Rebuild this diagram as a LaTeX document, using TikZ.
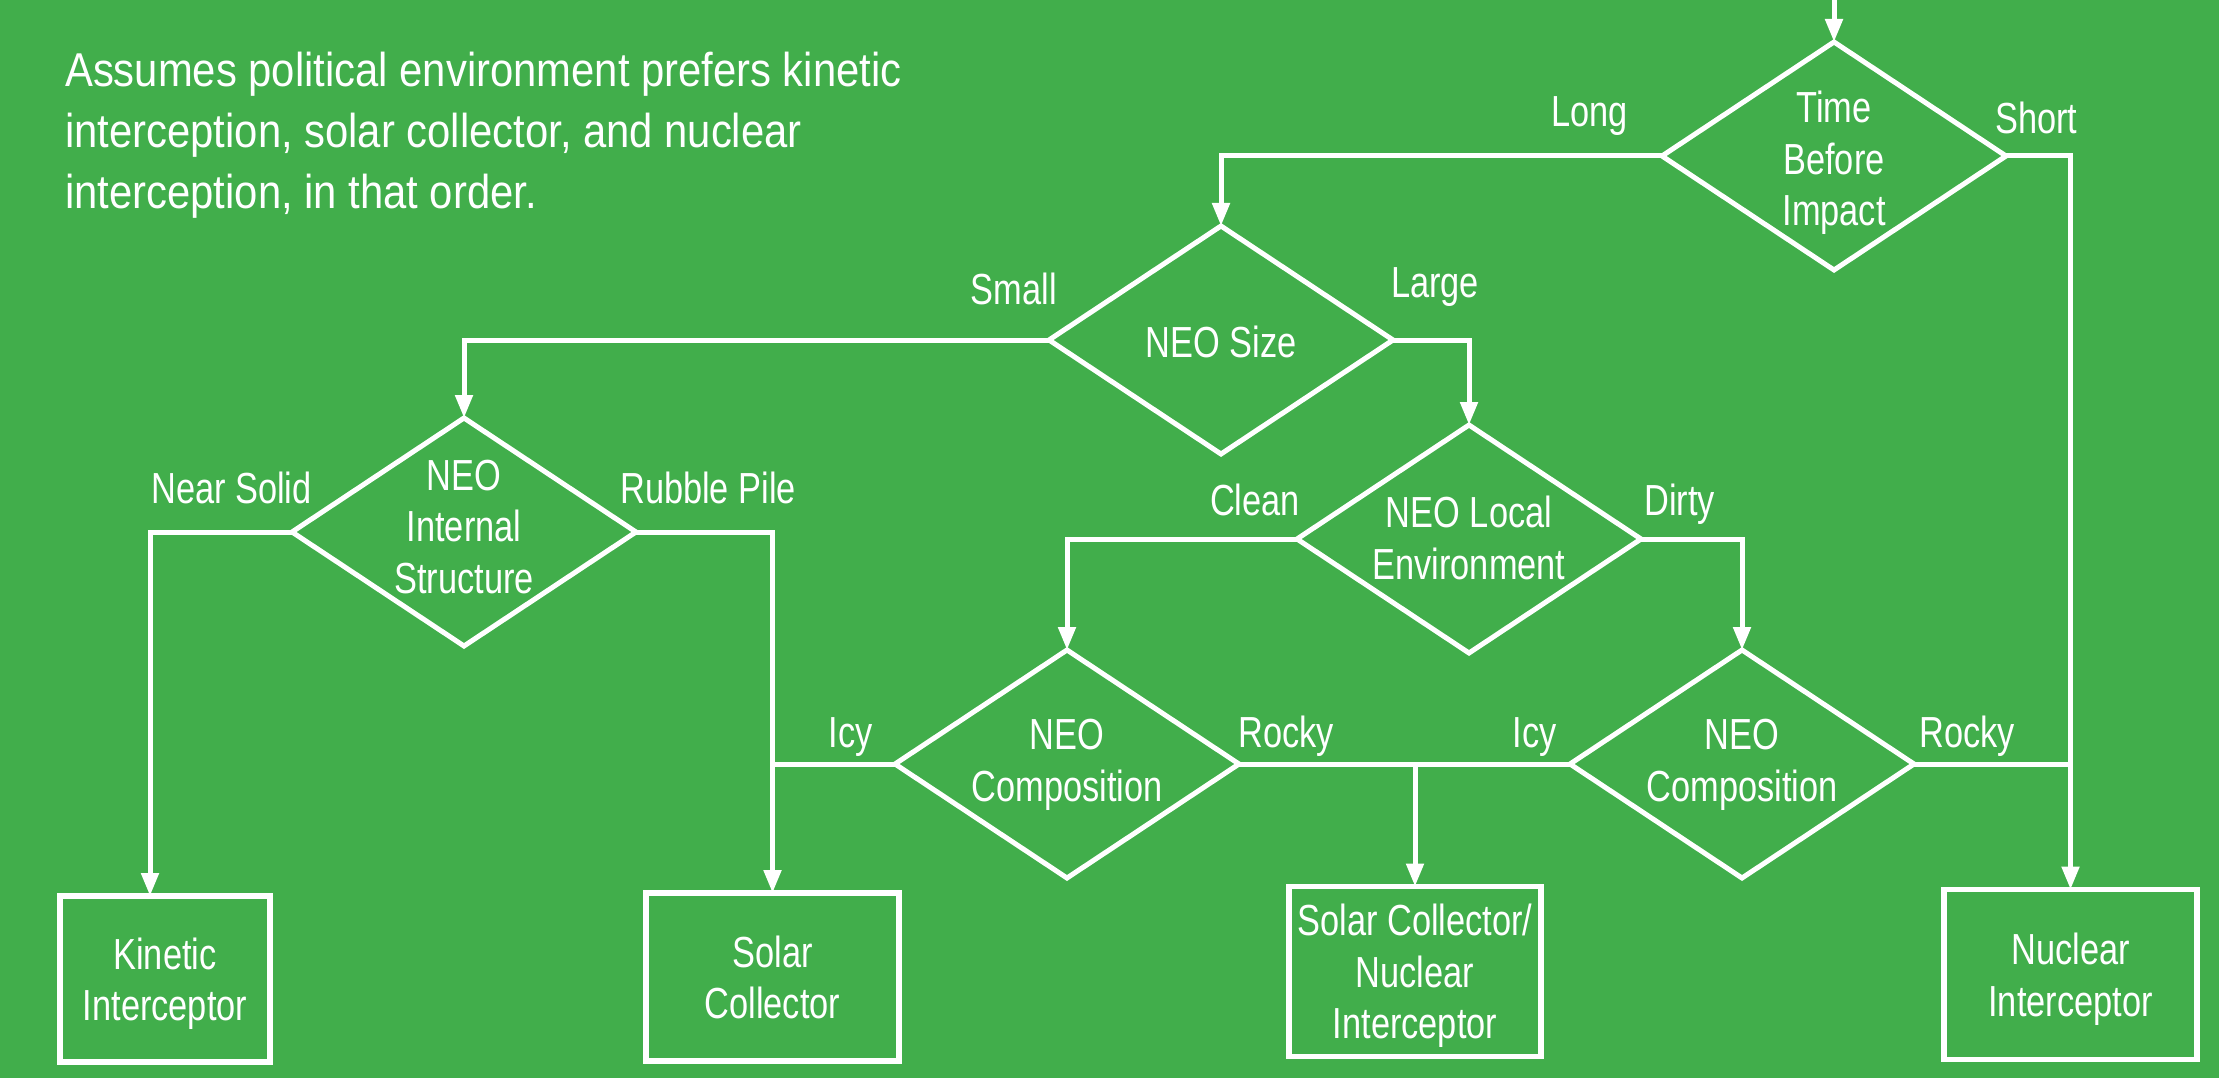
\documentclass[tikz,border=0pt]{standalone}
\usepackage{fontspec}
\setmainfont{Liberation Sans}
\newfontfamily\lblfont{Liberation Sans}[FakeStretch=0.79]
\newfontfamily\hdrfont{Liberation Sans}[FakeStretch=0.88]
\usetikzlibrary{shapes.geometric,arrows.meta}
\definecolor{bg}{RGB}{65,174,75}
\begin{document}
\begin{tikzpicture}[x=1pt,y=-1pt,
  conn/.style={draw=white, line width=5pt},
  arr/.style={conn, -{Triangle[length=23pt,width=17pt]}},
  dia/.style={shape=diamond, draw=white, line width=5pt, minimum width=344pt, minimum height=228pt, inner sep=0pt, outer sep=0pt},
  lblf/.style={font=\lblfont\fontsize{43.5}{51.5}\selectfont},
  dtext/.style={lblf, text=white, align=center, inner sep=0pt},
  lbl/.style={lblf, text=white, inner sep=0pt},
  box/.style={rectangle, draw=white, line width=5.5pt, inner sep=0pt, outer sep=0pt, align=center, text=white, lblf, text depth=0pt},
  hdr/.style={font=\hdrfont\fontsize{47.5}{61}\selectfont, text=white, align=left, inner sep=0pt}
]
\useasboundingbox (0,0) rectangle (2219,1078);
\fill[bg] (0,0) rectangle (2219,1078);

% header
\node[hdr, anchor=north west] (note) at (65,52) {Assumes political environment prefers kinetic\\interception, solar collector, and nuclear\\interception, in that order.};

% decision diamonds
\node[dia] (t) at (1834,156) {};
\node[dtext] (ttxt) at (1834,163) {Time\\Before\\Impact};
\node[dia] (s) at (1221,340) {};
\node[dtext] (stxt) at (1221,342) {NEO Size};
\node[dia] (i) at (464,532) {};
\node[dtext] (itxt) at (464,527) {NEO\\Internal\\Structure};
\node[dia] (l) at (1469,539) {};
\node[dtext] (ltxt) at (1469,538) {NEO Local\\Environment};
\node[dia] (c1) at (1067,764) {};
\node[dtext] (c1txt) at (1067,765) {NEO\\Composition};
\node[dia] (c2) at (1742,764) {};
\node[dtext] (c2txt) at (1742,765) {NEO\\Composition};

% outcome boxes
\node[box, minimum width=210pt, minimum height=166pt] (kin) at (165,979) {Kinetic\\Interceptor};
\node[box, minimum width=253pt, minimum height=168pt] (sol) at (772.5,977) {Solar\\Collector};
\node[box, minimum width=252pt, minimum height=170pt] (sn) at (1415,971.5) {Solar Collector/\\Nuclear\\Interceptor};
\node[box, minimum width=253pt, minimum height=170pt] (nuc) at (2070.5,974.5) {Nuclear\\Interceptor};

% connectors
\coordinate (topin) at (1834,0);
\draw[arr] (topin) -- (t.north);
\draw[arr] (t.west) -| (s.north);
\draw[arr] (t.east) -| (nuc.north);
\draw[arr] (s.west) -| (i.north);
\draw[arr] (s.east) -| (l.north);
\draw[arr] (i.west) -| ([xshift=-15pt]kin.north);
\draw[arr] (i.east) -| (sol.north);
\draw[arr] (l.west) -| (c1.north);
\draw[arr] (l.east) -| (c2.north);
\draw[conn] (c1.west) -- (c1.west -| sol.north);
\draw[conn] (c1.east) -- (c2.west);
\coordinate (jn) at (c1.east -| sn.north);
\draw[arr] (jn) -- (sn.north);
\draw[conn] (c2.east) -- (c2.east -| nuc.north);

% branch labels
\node[lbl, anchor=base east] (lLong) at (1628,127) {Long};
\node[lbl, anchor=base west] (lShort) at (1995,134) {Short};
\node[lbl, anchor=base east] (lSmall) at (1057,304) {Small};
\node[lbl, anchor=base west] (lLarge) at (1391,297) {Large};
\node[lbl, anchor=base east] (lNear) at (312,503) {Near Solid};
\node[lbl, anchor=base west] (lRubble) at (620,503) {Rubble Pile};
\node[lbl, anchor=base east] (lClean) at (1300,515) {Clean};
\node[lbl, anchor=base west] (lDirty) at (1644,515) {Dirty};
\node[lbl, anchor=base east] (lIcy1) at (873,747) {Icy};
\node[lbl, anchor=base west] (lRocky1) at (1238,747) {Rocky};
\node[lbl, anchor=base east] (lIcy2) at (1557,747) {Icy};
\node[lbl, anchor=base west] (lRocky2) at (1919,747) {Rocky};
\end{tikzpicture}
\end{document}
